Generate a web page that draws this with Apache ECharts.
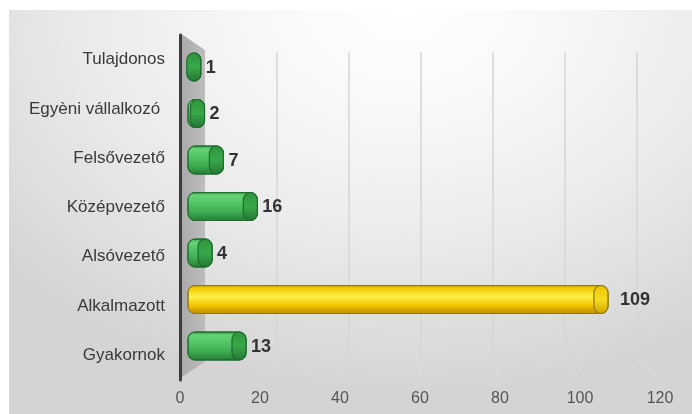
<!DOCTYPE html>
<html>
<head>
<meta charset="utf-8">
<script src="https://cdn.jsdelivr.net/npm/echarts@6/dist/echarts.min.js"></script>
<style>
html,body{margin:0;padding:0;background:#ffffff;}
#wrap{position:relative;width:692px;height:414px;overflow:hidden;}
#bg{position:absolute;left:9px;top:10px;width:683px;height:404px;
background:radial-gradient(ellipse 78% 95% at 58% 0%, #ffffff 0%, #f7f7f7 30%, #e8e8e8 65%, #d4d4d4 100%);}
#chart{position:absolute;left:0;top:0;width:692px;height:414px;}
</style>
</head>
<body>
<div id="wrap"><div id="bg"></div><div id="chart"></div></div>
<script>
// ---- data ----
const categories = ['Tulajdonos', 'Egyèni vállalkozó ', 'Felsővezető', 'Középvezető', 'Alsóvezető', 'Alkalmazott', 'Gyakornok'];
const values = [1, 2, 7, 16, 4, 109, 13];
const highlighted = 'Alkalmazott';
const xTicks = [0, 20, 40, 60, 80, 100, 120];

const FONT = "'Liberation Sans', Arial, sans-serif";

const green = {
  body: new echarts.graphic.LinearGradient(0, 0, 0, 1, [
    {offset: 0, color: '#2f8f40'}, {offset: 0.12, color: '#66d278'},
    {offset: 0.35, color: '#55c668'}, {offset: 0.7, color: '#3dab50'},
    {offset: 1, color: '#267c35'}]),
  cap: new echarts.graphic.LinearGradient(0, 0, 0, 1, [
    {offset: 0, color: '#30933f'}, {offset: 0.5, color: '#38a84a'}, {offset: 1, color: '#247532'}]),
  stroke: '#1f6c2c'
};
const yellow = {
  body: new echarts.graphic.LinearGradient(0, 0, 0, 1, [
    {offset: 0, color: '#b89200'}, {offset: 0.1, color: '#f5c800'},
    {offset: 0.4, color: '#fff04a'}, {offset: 0.7, color: '#f6c400'},
    {offset: 1, color: '#c08a00'}]),
  cap: new echarts.graphic.LinearGradient(0, 0, 0, 1, [
    {offset: 0, color: '#e8c400'}, {offset: 0.5, color: '#f8dc20'}, {offset: 1, color: '#d0a000'}]),
  stroke: '#8c7a10'
};

const barData = values.map((v, i) => [v, i]);

const chart = echarts.init(document.getElementById('chart'));
const option = {
  backgroundColor: 'transparent',
  animation: false,
  grid: [
    {left: 180, width: 480, top: 35, height: 345},   // front plane: labels
    {left: 205, width: 432, top: 52, height: 308},   // back plane: gridlines
    {left: 197, width: 452.4, top: 43.75, height: 325.5} // bars
  ],
  xAxis: [
    {gridIndex: 0, type: 'value', min: 0, max: 120, interval: 20,
     axisLine: {show: false}, axisTick: {show: false}, splitLine: {show: false},
     axisLabel: {fontSize: 16, color: '#555555', fontFamily: FONT, margin: 11}},
    {gridIndex: 1, type: 'value', min: 0, max: 120, interval: 20,
     axisLine: {show: false}, axisTick: {show: false}, axisLabel: {show: false},
     splitLine: {show: true, showMinLine: false, lineStyle: {color: '#d6d6d6', width: 1.5}}},
    {gridIndex: 2, type: 'value', min: 0, max: 120, show: false}
  ],
  yAxis: [
    {gridIndex: 0, type: 'category', data: categories, inverse: true,
     axisLine: {show: true, lineStyle: {color: '#3c3c3c', width: 3}},
     axisTick: {show: false},
     axisLabel: {fontSize: 17, color: '#3a3a3a', fontFamily: FONT, margin: 15}},
    {gridIndex: 1, type: 'category', data: categories, inverse: true, show: false},
    {gridIndex: 2, type: 'category', data: categories, inverse: true, show: false}
  ],
  series: [{
    type: 'custom',
    xAxisIndex: 2, yAxisIndex: 2,
    data: barData,
    encode: {x: 0, y: 1},
    renderItem: function (params, api) {
      const v = api.value(0), i = api.value(1);
      const p0 = api.coord([0, i]);
      const p1 = api.coord([v, i]);
      const pal = categories[i] === highlighted ? yellow : green;
      const h = 28, r = 7;
      const x0 = p0[0] - 9, x1 = p1[0], cy = p1[1];
      return {
        type: 'group',
        children: [
          {type: 'rect', shape: {x: x0, y: cy - h / 2, width: x1 - x0, height: h, r: r},
           style: {fill: pal.body, stroke: pal.stroke, lineWidth: 1}},
          {type: 'rect', shape: {x: x1 - 2 * r, y: cy - h / 2, width: 2 * r, height: h, r: r},
           style: {fill: pal.cap, stroke: pal.stroke, lineWidth: 1.2}},
          {type: 'text', x: x1 + (v > 50 ? 12 : 5), y: cy + 1,
           style: {text: String(v), fill: '#333333', font: 'bold 18px ' + FONT,
                   verticalAlign: 'middle', align: 'left'}}
        ]
      };
    }
  }]
};
chart.setOption(option);

// side wall and floor lines derived from the axes' layout
const gA = {left: 180, top: 35, bottom: 380};
const gB = {left: 205, top: 52, bottom: 360};
const graphics = [{
  type: 'polygon', z: -1, silent: true,
  shape: {points: [[gA.left, 33], [gB.left, gB.top - 2], [gB.left, gB.bottom + 2], [gA.left, 378]]},
  style: {fill: new echarts.graphic.LinearGradient(0, 0, 1, 0, [
    {offset: 0, color: '#a9a9a9'}, {offset: 1, color: '#bdbdbd'}])}
}];
xTicks.slice(1).forEach(t => {
  const xb = chart.convertToPixel({xAxisIndex: 1}, t);
  const xf = chart.convertToPixel({xAxisIndex: 0}, t);
  graphics.push({type: 'line', silent: true, z: -1,
    shape: {x1: xb, y1: gB.bottom, x2: xf, y2: 378},
    style: {stroke: '#dcdcdc', lineWidth: 1.2}});
});
chart.setOption({graphic: graphics});
</script>
</body>
</html>
